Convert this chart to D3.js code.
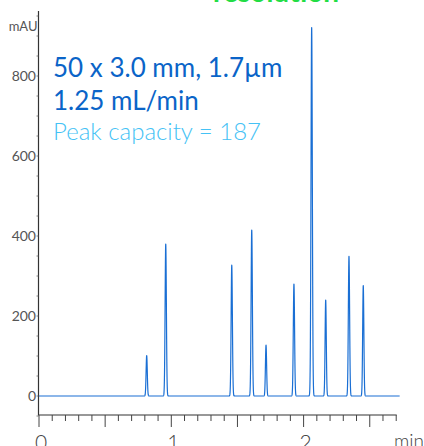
<!DOCTYPE html>
<html><head><meta charset="utf-8">
<script src="https://cdn.jsdelivr.net/npm/d3@7"></script>
<style>
html,body{margin:0;padding:0;background:#fff;}
svg{display:block;}
</style></head>
<body>
<svg id="c" width="424" height="446"></svg>
<script>
// Peak data
const peakTimes   = [0.814, 0.958, 1.457, 1.608, 1.716, 1.927, 2.061, 2.167, 2.343, 2.451];
const peakHeights = [101, 380, 327, 415, 127, 280, 921, 240, 349, 276];
const peakWidths  = [0.0045, 0.0048, 0.0048, 0.0048, 0.0045, 0.0048, 0.005, 0.0045, 0.0048, 0.0045];
const yTicks = [0, 200, 400, 600, 800];
const xTickLabels = [0, 1, 2];
const runEnd = 2.726;

const svg = d3.select("#c");
const x = d3.scaleLinear().domain([0, 1]).range([39, 171.3]);
const y = d3.scaleLinear().domain([0, 800]).range([396, 76]);

// trace samples
const step = 0.0005;
const trace = d3.range(0, runEnd + step/2, step).map(t => {
  let v = 0;
  peakTimes.forEach((pt, i) => {
    const d = (t - pt) / peakWidths[i];
    v += peakHeights[i] * Math.exp(-0.5 * d * d);
  });
  return [t, v];
});

// green title (cut off at top)
svg.append("text").attr("x", 213).attr("y", 2)
  .attr("font-family", "Lato").attr("font-weight", 700).attr("font-size", 28)
  .attr("fill", "#22dd44").text("resolution");

// annotation text
svg.append("text").attr("x", 53).attr("y", 77)
  .attr("font-family", "Lato").attr("font-size", 26).attr("fill", "#0a64c8")
  .text("50 x 3.0 mm, 1.7µm");
svg.append("text").attr("x", 53).attr("y", 110)
  .attr("font-family", "Lato").attr("font-size", 26).attr("fill", "#0a64c8")
  .text("1.25 mL/min");
svg.append("text").attr("x", 53).attr("y", 140)
  .attr("font-family", "Lato").attr("font-weight", 300).attr("font-size", 24).attr("fill", "#45c2f5")
  .text("Peak capacity = 187");

// y axis
const yAxisX = 38.5;
svg.append("line").attr("x1", yAxisX).attr("x2", yAxisX).attr("y1", 11).attr("y2", 415)
  .attr("stroke", "#333").attr("stroke-width", 1.2);
const yMinor = d3.range(-50, 951, 50);
svg.selectAll(".ym").data(yMinor).enter().append("line")
  .attr("x1", yAxisX - 2).attr("x2", yAxisX).attr("y1", d => y(d)).attr("y2", d => y(d))
  .attr("stroke", "#666").attr("stroke-width", 0.8);
svg.selectAll(".yl").data(yTicks).enter().append("text")
  .attr("x", 36).attr("y", d => y(d)).attr("dy", "0.35em").attr("text-anchor", "end")
  .attr("font-family", "Lato").attr("font-size", 14).attr("fill", "#555")
  .text(d => d);
svg.append("text").attr("x", 37.5).attr("y", 26).attr("dy", "0.35em").attr("text-anchor", "end")
  .attr("font-family", "Lato").attr("font-size", 13).attr("fill", "#555").text("mAU");

// x axis
const xAxisY = 415;
svg.append("line").attr("x1", 38).attr("x2", x(2.7) + 0.5).attr("y1", xAxisY).attr("y2", xAxisY)
  .attr("stroke", "#333").attr("stroke-width", 1.2);
const xMinor = d3.range(0, 28).map(i => i / 10);
svg.selectAll(".xt").data(xMinor).enter().append("line")
  .attr("x1", d => x(d)).attr("x2", d => x(d)).attr("y1", xAxisY)
  .attr("y2", (d, i) => i % 5 === 0 ? xAxisY + 12 : xAxisY + 6)
  .attr("stroke", "#444").attr("stroke-width", 1);
svg.selectAll(".xl").data(xTickLabels).enter().append("text")
  .attr("x", d => x(d) + 2).attr("y", 450).attr("text-anchor", "middle")
  .attr("font-family", "Lato").attr("font-weight", 300).attr("font-size", 21).attr("fill", "#444")
  .text(d => d);
svg.append("text").attr("x", 394).attr("y", 448)
  .attr("font-family", "Lato").attr("font-weight", 300).attr("font-size", 19).attr("fill", "#444").text("min");

// trace
const line = d3.line().x(d => x(d[0])).y(d => y(d[1]));
svg.append("path").datum(trace).attr("d", line)
  .attr("fill", "none").attr("stroke", "#1a6fd4").attr("stroke-width", 1.2)
  .attr("stroke-linejoin", "round");
</script>
</body></html>
